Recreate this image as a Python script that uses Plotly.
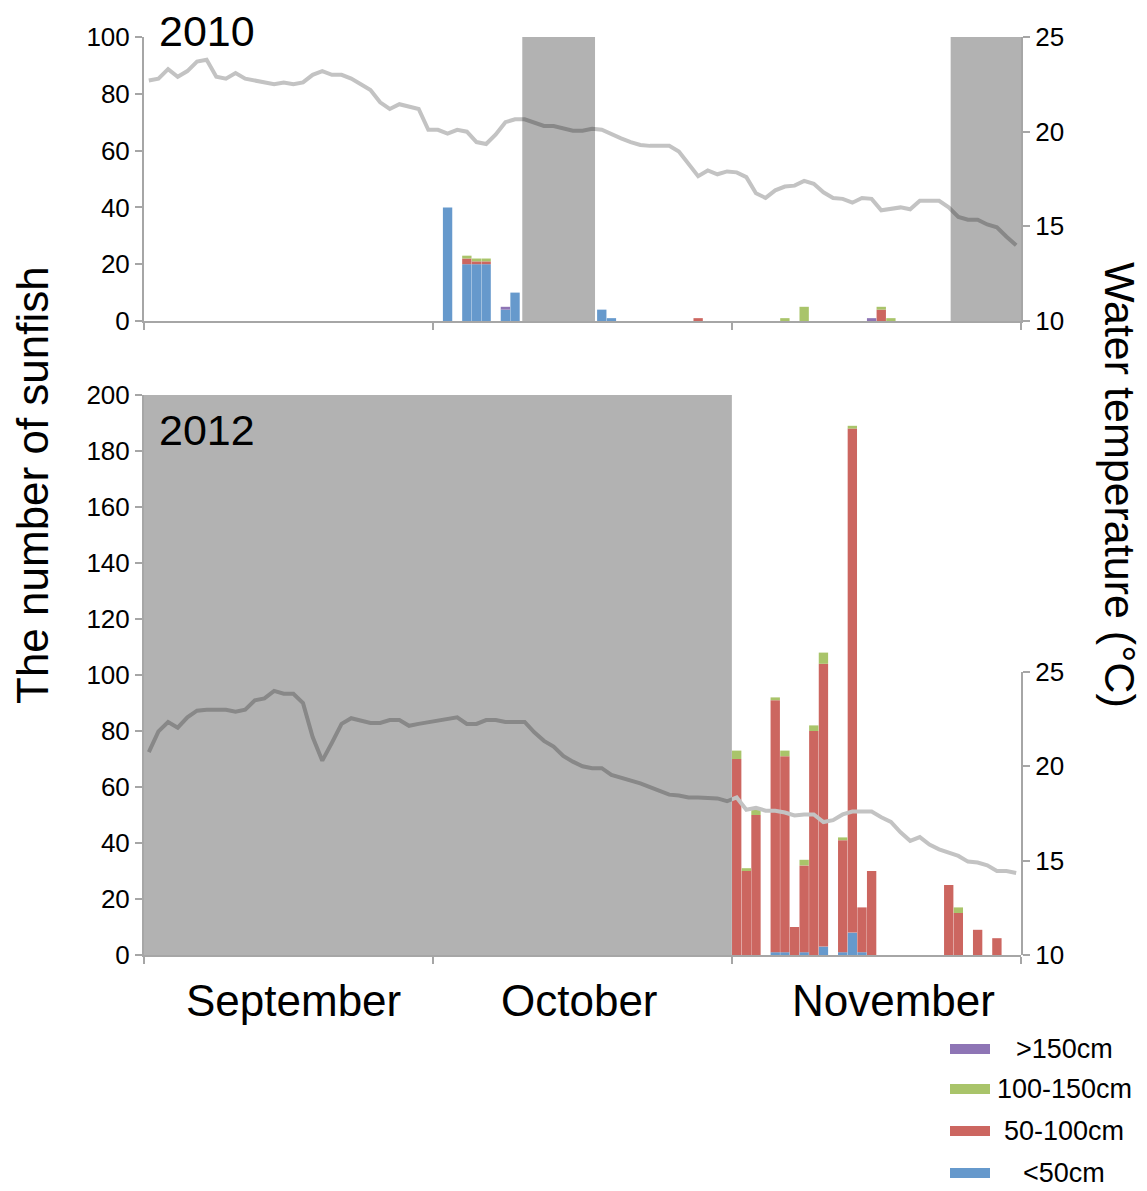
import plotly.graph_objects as go

# ---------------- data ----------------
days = list(range(1, 92))  # 1 = 1 September ... 91 = 30 November
month_labels = ["September", "October", "November"]
month_label_pos = [16, 45.7, 78.3]

temp_2010 = [22.7, 22.8, 23.3, 22.9, 23.2, 23.7, 23.8, 22.9, 22.8, 23.1,
             22.8, 22.7, 22.6, 22.5, 22.6, 22.5, 22.6, 23.0, 23.2, 23.0,
             23.0, 22.8, 22.5, 22.2, 21.55, 21.2, 21.45, 21.35, 21.2, 20.1,
             20.1, 19.9, 20.1, 20.0, 19.45, 19.35, 19.85, 20.5, 20.65, 20.65,
             20.45, 20.3, 20.3, 20.2, 20.05, 20.05, 20.15, 20.1, 19.85, 19.65,
             19.45, 19.3, 19.25, 19.25, 19.25, 18.95, 18.3, 17.65, 17.95, 17.75,
             17.9, 17.85, 17.6, 16.75, 16.5, 16.9, 17.1, 17.15, 17.4, 17.25,
             16.8, 16.5, 16.45, 16.25, 16.5, 16.45, 15.85, 15.95, 16.0, 15.9,
             16.35, 16.35, 16.35, 16.0, 15.5, 15.35, 15.35, 15.1, 14.95, 14.45,
             14.0]

temp_2012 = [20.75, 21.85, 22.35, 22.05, 22.6, 22.95, 23.0, 23.0, 23.0, 22.9,
             23.0, 23.5, 23.6, 24.0, 23.85, 23.85, 23.35, 21.55, 20.3, 21.25,
             22.25, 22.55, 22.4, 22.3, 22.3, 22.45, 22.45, 22.15, 22.25, 22.35,
             22.45, 22.5, 22.6, 22.25, 22.25, 22.45, 22.45, 22.35, 22.35, 22.35,
             21.8, 21.35, 21.05, 20.55, 20.25, 20.0, 19.9, 19.9, 19.55, 19.4,
             19.3, 19.1, 18.9, 18.7, 18.5, 18.45, 18.35, 18.35, 18.35, 18.3,
             18.15, 18.35, 17.7, 17.8, 17.65, 17.65, 17.55, 17.4, 17.45, 17.45,
             17.05, 17.15, 17.45, 17.6, 17.6, 17.6, 17.3, 17.05, 16.5, 16.05,
             16.25, 15.85, 15.6, 15.45, 15.25, 14.95, 14.9, 14.75, 14.45, 14.45,
             14.35]

size_classes = ["<50cm", "50-100cm", "100-150cm", ">150cm"]
size_colors = ["#6699cc", "#cc6660", "#a9c46a", "#8e75b5"]

days_2010 = [32, 34, 35, 36, 38, 39, 48, 49, 58, 67, 69, 76, 77, 78]
lt50_2010 = [40, 20, 20, 20, 4, 10, 4, 1, 0, 0, 0, 0, 0, 0]
s50_100_2010 = [0, 2, 1, 1, 0, 0, 0, 0, 1, 0, 0, 0, 4, 0]
s100_150_2010 = [0, 1, 1, 1, 0, 0, 0, 0, 0, 1, 5, 0, 1, 1]
gt150_2010 = [0, 0, 0, 0, 1, 0, 0, 0, 0, 0, 0, 1, 0, 0]

days_2012 = [62, 63, 64, 66, 67, 68, 69, 70, 71, 73, 74, 75, 76, 84, 85, 87, 89]
lt50_2012 = [0, 0, 0, 1, 1, 0, 1, 0, 3, 1, 8, 1, 0, 0, 0, 0, 0]
s50_100_2012 = [70, 30, 50, 90, 70, 10, 31, 80, 101, 40, 180, 16, 30, 25, 15, 9, 6]
s100_150_2012 = [3, 1, 2, 1, 2, 0, 2, 2, 4, 1, 1, 0, 0, 0, 2, 0, 0]
gt150_2012 = [0] * 17

# periods without survey (shaded)
shade_2010 = [(39.75, 47.3), (84.2, 91.5)]
shade_2012 = [(0.5, 61.5)]

# ---------------- figure ----------------
W, H = 1147, 1191


def fx(p):
    return p / W


def fy(p):
    return 1 - p / H


AX = "#a6a6a6"
FONT = "Liberation Sans, Arial, sans-serif"

fig = go.Figure()

series_2010 = [lt50_2010, s50_100_2010, s100_150_2010, gt150_2010]
series_2012 = [lt50_2012, s50_100_2012, s100_150_2012, gt150_2012]

for name, col, vals in zip(size_classes, size_colors, series_2010):
    fig.add_trace(go.Bar(x=days_2010, y=vals, name=name, marker_color=col,
                         marker_line_width=0, xaxis="x", yaxis="y"))
for name, col, vals in zip(size_classes, size_colors, series_2012):
    fig.add_trace(go.Bar(x=days_2012, y=vals, name=name, marker_color=col,
                         marker_line_width=0, xaxis="x2", yaxis="y3"))

fig.add_trace(go.Scatter(x=days, y=temp_2010, mode="lines",
                         line=dict(color="#c3c3c3", width=4),
                         xaxis="x", yaxis="y2"))
fig.add_trace(go.Scatter(x=days, y=temp_2012, mode="lines",
                         line=dict(color="#c3c3c3", width=4),
                         xaxis="x2", yaxis="y4"))

xcommon = dict(range=[0.5, 91.5], tickvals=[0.5, 30.5, 61.5, 91.5],
               ticks="outside", ticklen=7, tickwidth=2, tickcolor=AX,
               showline=True, linecolor=AX, linewidth=2, automargin=False,
               showticklabels=False, showgrid=False, zeroline=False,
               domain=[fx(144), fx(1021)])
ycommon = dict(ticks="outside", ticklen=7, tickwidth=2, tickcolor=AX,
               showline=True, linecolor=AX, linewidth=2, showgrid=False,
               zeroline=False, automargin=False,
               tickfont=dict(size=26, color="black", family=FONT))

fig.update_layout(
    width=W, height=H, margin=dict(l=0, r=0, t=0, b=0, autoexpand=False),
    paper_bgcolor="white", plot_bgcolor="rgba(0,0,0,0)",
    barmode="relative", bargap=0.03, showlegend=False,
    font=dict(family=FONT, color="black"),
    xaxis=dict(anchor="y", **xcommon),
    xaxis2=dict(anchor="y3", **xcommon),
    yaxis=dict(anchor="x", domain=[fy(321), fy(37)], range=[0, 100], dtick=20, **ycommon),
    yaxis2=dict(anchor="x", overlaying="y", side="right", range=[10, 25], dtick=5, **ycommon),
    yaxis3=dict(anchor="x2", domain=[fy(955), fy(395)], range=[0, 200], dtick=20, **ycommon),
    yaxis4=dict(anchor="x2", side="right", domain=[fy(955), fy(672)], range=[10, 25], dtick=5, **ycommon),
)

shapes = []
for a, b in shade_2010:
    shapes.append(dict(type="rect", xref="x", yref="y", x0=a, x1=b, y0=0, y1=100,
                       fillcolor="rgba(0,0,0,0.3)", line=dict(width=0), layer="above"))
for a, b in shade_2012:
    shapes.append(dict(type="rect", xref="x2", yref="y3", x0=a, x1=b, y0=0, y1=200,
                       fillcolor="rgba(0,0,0,0.3)", line=dict(width=0), layer="above"))

annotations = [
    dict(text="2010", x=fx(157), y=fy(31), xref="paper", yref="paper",
         xanchor="left", yanchor="middle", showarrow=False, font=dict(size=43)),
    dict(text="2012", x=fx(157), y=fy(430), xref="paper", yref="paper",
         xanchor="left", yanchor="middle", showarrow=False, font=dict(size=43)),
    dict(text="The number of sunfish", x=fx(33), y=fy(485), xref="paper", yref="paper",
         xanchor="center", yanchor="middle",
         textangle=-90, showarrow=False, font=dict(size=44)),
    dict(text="Water temperature (°C)", x=fx(1120), y=fy(485), xref="paper", yref="paper",
         xanchor="center", yanchor="middle",
         textangle=90, showarrow=False, font=dict(size=43)),
]
for lab, pos in zip(month_labels, month_label_pos):
    annotations.append(dict(text=lab, x=pos, y=fy(1000), xref="x2", yref="paper",
                            xanchor="center", yanchor="middle",
                            showarrow=False, font=dict(size=44)))

# manual legend (reverse order, as in the reference)
leg_y = [1049, 1089, 1131, 1173]
for name, col, cy in zip(size_classes[::-1], size_colors[::-1], leg_y):
    shapes.append(dict(type="rect", xref="paper", yref="paper",
                       x0=fx(950), x1=fx(990), y0=fy(cy + 5), y1=fy(cy - 5),
                       fillcolor=col, line=dict(width=0)))
    annotations.append(dict(text=name, x=fx(1064), y=fy(cy), xref="paper", yref="paper",
                            xanchor="center", yanchor="middle", showarrow=False,
                            font=dict(size=27)))

fig.update_layout(shapes=shapes, annotations=annotations)

fig.write_html("out.html")
